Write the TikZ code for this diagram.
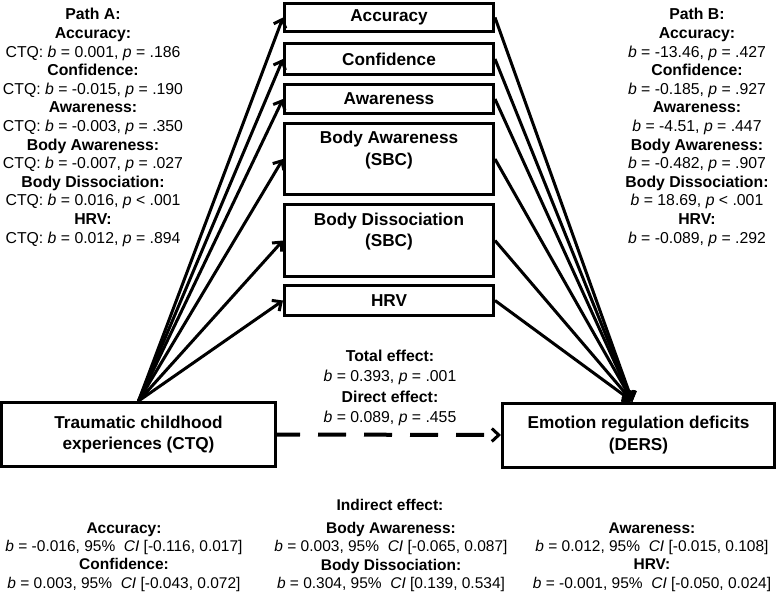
\documentclass[tikz,border=0pt]{standalone}
\usepackage{fontspec}
\setmainfont{Liberation Sans}
\usetikzlibrary{arrows.meta}
\tikzset{
  varbox/.style={draw, line width=3pt, minimum width=209pt, inner sep=0pt, align=center, font=\bfseries},
  endbox/.style={draw, line width=3pt, minimum height=64pt, inner sep=0pt, align=center, font=\bfseries},
  pathline/.style={line width=3pt, -{Straight Barb[length=7pt,width=13pt,line width=3pt]}},
  stattext/.style={align=center, inner sep=0pt},
}
\begin{document}
\begin{tikzpicture}[x=1pt,y=-1pt]
\useasboundingbox (0,0) rectangle (777,592);
{\fontsize{17.2}{21.5}\selectfont

% Drawing mediator boxes
\node [varbox, minimum height=28pt] (accuracy) at (389,17.5) {Accuracy};%
\node [varbox, minimum height=31pt] (confidence) at (389,59) {Confidence};%
\node [varbox, minimum height=29pt] (awareness) at (389,99) {Awareness};%
\node [varbox, minimum height=71pt] (bodyaw) at (389,159) {Body Awareness\\(SBC)\\\mbox{}};%
\node [varbox, minimum height=72pt] (bodydis) at (389,240.5) {Body Dissociation\\(SBC)\\\mbox{}};%
\node [varbox, minimum height=30pt] (hrv) at (389,300.5) {HRV};%

% Drawing predictor and outcome boxes
\node [endbox, minimum width=274pt] (ctq) at (138.5,434.5) {Traumatic childhood\\experiences (CTQ)};%
\node [endbox, minimum width=272pt] (ders) at (638.5,435) {Emotion regulation deficits\\(DERS)};%

% Drawing path a
\foreach \m in {accuracy,confidence,awareness,bodyaw,bodydis,hrv}
  \draw [pathline] (ctq.north) -- (\m.west);%

% Drawing path b
\foreach \m in {accuracy,confidence,awareness,bodyaw,bodydis,hrv}
  \draw [pathline] (\m.east) -- ([xshift=-6pt]ders.north);%

% Drawing direct path c'
\draw [pathline, line width=4pt, dash pattern=on 28pt off 18pt, dash phase=5pt] (ctq.east) -- (ders.west);%
}

{\fontsize{15.8}{18.6}\selectfont
% Marking path A
\node [stattext] (patha) at (93,127.5) {\textbf{Path A:}\\\textbf{Accuracy:}\\CTQ: \textit{b} = 0.001, \textit{p} = .186\\\textbf{Confidence:}\\CTQ: \textit{b} = -0.015, \textit{p} = .190\\\textbf{Awareness:}\\CTQ: \textit{b} = -0.003, \textit{p} = .350\\\textbf{Body Awareness:}\\CTQ: \textit{b} = -0.007, \textit{p} = .027\\\textbf{Body Dissociation:}\\CTQ: \textit{b} = 0.016, \textit{p} < .001\\\textbf{HRV:}\\CTQ: \textit{b} = 0.012, \textit{p} = .894};%

% Marking path B
\node [stattext] (pathb) at (697,127.5) {\textbf{Path B:}\\\textbf{Accuracy:}\\\textit{b} = -13.46, \textit{p} = .427\\\textbf{Confidence:}\\\textit{b} = -0.185, \textit{p} = .927\\\textbf{Awareness:}\\\textit{b} = -4.51, \textit{p} = .447\\\textbf{Body Awareness:}\\\textit{b} = -0.482, \textit{p} = .907\\\textbf{Body Dissociation:}\\\textit{b} = 18.69, \textit{p} < .001\\\textbf{HRV:}\\\textit{b} = -0.089, \textit{p} = .292};%
}

{\fontsize{15.8}{20.5}\selectfont
% Marking total and direct effect
\node [stattext] (effects) at (390,388) {\textbf{Total effect:}\\\textit{b} = 0.393, \textit{p} = .001\\\textbf{Direct effect:}\\\textit{b} = 0.089, \textit{p} = .455};%
}

% Marking indirect effects
{\fontsize{15.5}{18.4}\selectfont
\node [stattext] (indirect) at (390,505) {\textbf{Indirect effect:}};%
\node [stattext] (indacc) at (124,557) {\textbf{Accuracy:}\\\textit{b} = -0.016, 95\%\ \ \textit{CI} [-0.116, 0.017]\\\textbf{Confidence:}\\\textit{b} = 0.003, 95\%\ \ \textit{CI} [-0.043, 0.072]};%
\node [stattext] (indbody) at (391,557) {\textbf{Body Awareness:}\\\textit{b} = 0.003, 95\%\ \ \textit{CI} [-0.065, 0.087]\\\textbf{Body Dissociation:}\\\textit{b} = 0.304, 95\%\ \ \textit{CI} [0.139, 0.534]};%
\node [stattext] (indaw) at (652,557) {\textbf{Awareness:}\\\textit{b} = 0.012, 95\%\ \ \textit{CI} [-0.015, 0.108]\\\textbf{HRV:}\\\textit{b} = -0.001, 95\%\ \ \textit{CI} [-0.050, 0.024]};%
}
\end{tikzpicture}
\end{document}
